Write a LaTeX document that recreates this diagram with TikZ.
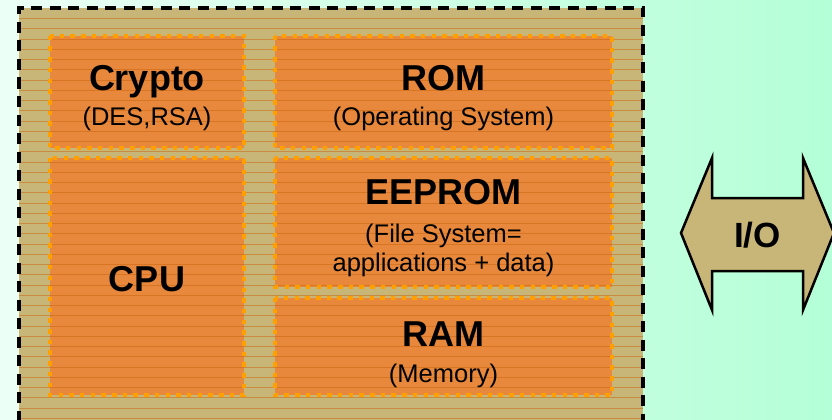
\documentclass[tikz,border=0pt]{standalone}
\usepackage{fontspec}
\setmainfont{Liberation Sans}
\definecolor{bgL}{RGB}{236,255,246}
\definecolor{bgR}{RGB}{180,255,215}
\definecolor{tan}{RGB}{200,182,120}
\definecolor{boxorange}{RGB}{232,136,60}
\definecolor{dotorange}{RGB}{255,160,0}
\definecolor{hatchc}{RGB}{200,100,10}
\tikzset{
  boxfill/.style={fill=boxorange, draw=none, inner sep=0pt},
  dotborder/.style={draw=dotorange, line width=4.5pt, dash pattern=on 4.5pt off 6.2pt},
  outerbox/.style={draw=black, line width=3.5pt, dash pattern=on 11pt off 7.5pt},
  hatch/.style={draw=hatchc, line width=1pt, opacity=0.5},
  big/.style={font=\fontsize{36}{40}\selectfont\bfseries, anchor=base, inner sep=0pt},
  small/.style={font=\fontsize{25.5}{30}\selectfont, anchor=base, inner sep=0pt},
  arrowshape/.style={fill=tan, draw=black, line width=2.5pt, line join=miter}
}
\begin{document}
\begin{tikzpicture}[x=1pt,y=-1pt]
\useasboundingbox (0,0) rectangle (832,420);
\clip (0,0) rectangle (832,420);
\shade[left color=bgL, right color=bgR] (0,0) rectangle (832,420);
% outer board
\fill[tan] (19,8) rectangle (643,440);
% orange blocks
\node[boxfill, minimum width=194pt, minimum height=112pt] (crypto) at (147,92) {};
\node[boxfill, minimum width=337pt, minimum height=112pt] (rom) at (443.5,92) {};
\node[boxfill, minimum width=194pt, minimum height=237pt] (cpu) at (147,276.5) {};
\node[boxfill, minimum width=337pt, minimum height=129pt] (eeprom) at (443.5,222.5) {};
\node[boxfill, minimum width=337pt, minimum height=97pt] (ram) at (443.5,346.5) {};
% hatching
\begin{scope}
\clip (19,8) rectangle (643,440);
\foreach \k in {0,...,41} {
  \pgfmathsetmacro{\yy}{18.5+round(10.25*\k)}
  \draw[hatch] (19,\yy) -- (643,\yy);
}
\end{scope}
\foreach \n in {crypto,rom,cpu,eeprom,ram}
  \draw[dotborder] (\n.north west) rectangle (\n.south east);
\draw[outerbox] (19,440) -- (19,8) -- (643,8) -- (643,440);
% texts
\node[big] (tcrypto) at (147,90) {Crypto};
\node[small] (tdes) at (147,125) {(DES,RSA)};
\node[big] (trom) at (443.5,90) {ROM};
\node[small] (tos) at (443.5,125) {(Operating System)};
\node[big] (teeprom) at (443.5,204) {EEPROM};
\node[small] (tfs) at (443.5,242) {(File System=};
\node[small] (tapp) at (443.5,271) {applications + data)};
\node[big] (tcpu) at (147,291) {CPU};
\node[big] (tram) at (443.5,346) {RAM};
\node[small] (tmem) at (443.5,382) {(Memory)};
% I/O double arrow
\draw[arrowshape] (681,233) -- (712,158) -- (712,198) -- (803,198) -- (803,158) -- (834,233)
  -- (803,310) -- (803,271) -- (712,271) -- (712,310) -- cycle;
\node[big, font=\fontsize{35}{40}\selectfont\bfseries] (io) at (757.5,247) {I/O};
\end{tikzpicture}
\end{document}
